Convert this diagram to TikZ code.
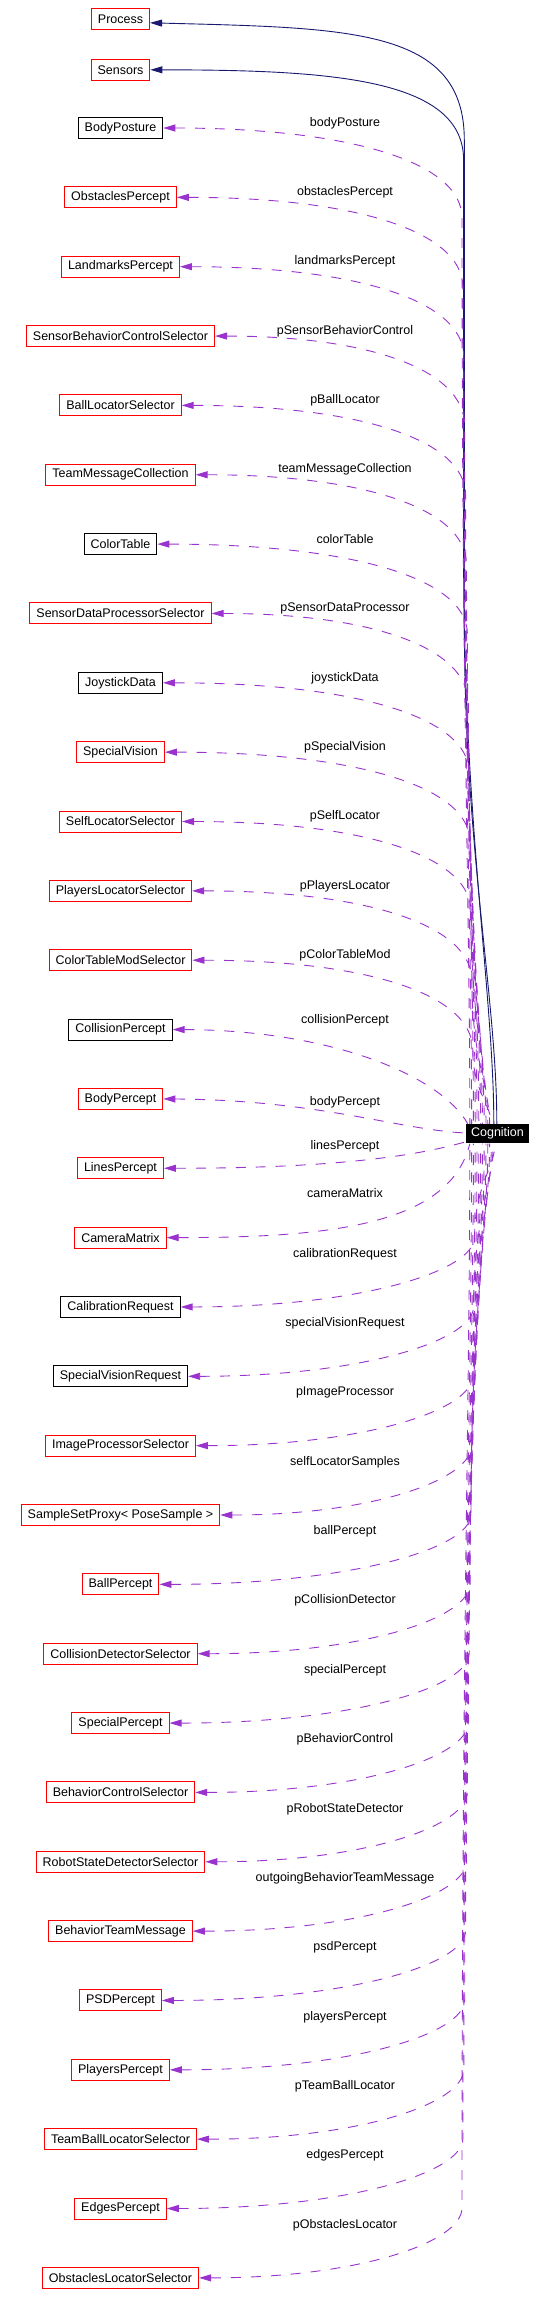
\documentclass[tikz,border=0pt]{standalone}
\usepackage{fontspec}
\setmainfont{Liberation Sans}
\usetikzlibrary{arrows.meta,calc}
\definecolor{dorchid}{HTML}{9A32CD}
\definecolor{mnblue}{HTML}{191970}
\definecolor{boxred}{HTML}{FF0000}
\newcommand\dgfont{\fontsize{12.5pt}{15pt}\selectfont}
\begin{document}
\begin{tikzpicture}[x=1pt,y=1pt,
  cls/.style={draw=boxred, line width=1pt, font=\dgfont, inner xsep=6.5pt, inner ysep=0pt, minimum height=21pt, text=black},
  clsk/.style={cls, draw=black},
  lbl/.style={font=\dgfont, inner sep=0pt, text=black},
  depline/.style={draw=dorchid, line width=0.9pt, dash pattern=on 10pt off 10pt, arrows={Triangle[length=12pt,width=7pt]-}},
  inhline/.style={draw=mnblue, line width=0.9pt, arrows={Triangle[length=12pt,width=7pt]-}}]
\useasboundingbox (0,0) rectangle (545,-2308);
\node[cls] (proc) at (120.5,-18.8) {Process};
\node[cls] (sens) at (120.5,-69.8) {Sensors};
\foreach \i/\t/\s in {0/BodyPosture/clsk,1/ObstaclesPercept/cls,2/LandmarksPercept/cls,3/SensorBehaviorControlSelector/cls,4/BallLocatorSelector/cls,5/TeamMessageCollection/cls,6/ColorTable/clsk,7/SensorDataProcessorSelector/cls,8/JoystickData/clsk,9/SpecialVision/cls,10/SelfLocatorSelector/cls,11/PlayersLocatorSelector/cls,12/ColorTableModSelector/cls,13/CollisionPercept/clsk,14/BodyPercept/cls,15/LinesPercept/cls,16/CameraMatrix/cls,17/CalibrationRequest/clsk,18/SpecialVisionRequest/clsk,19/ImageProcessorSelector/cls,20/SampleSetProxy< PoseSample >/cls,21/BallPercept/cls,22/CollisionDetectorSelector/cls,23/SpecialPercept/cls,24/BehaviorControlSelector/cls,25/RobotStateDetectorSelector/cls,26/BehaviorTeamMessage/cls,27/PSDPercept/cls,28/PlayersPercept/cls,29/TeamBallLocatorSelector/cls,30/EdgesPercept/cls,31/ObstaclesLocatorSelector/cls}
  \node[\s] (n\i) at (120.5,{-(128+69.35*\i)}) {\t};
\node[fill=black, text=white, font=\dgfont, inner sep=0pt, minimum width=63pt, minimum height=19.5pt] (cog) at (497.5,-1133.7) {Cognition};
\foreach \i/\t/\d in {0/bodyPosture/5,1/obstaclesPercept/5,2/landmarksPercept/5,3/pSensorBehaviorControl/5,4/pBallLocator/5,5/teamMessageCollection/5,6/colorTable/5,7/pSensorDataProcessor/5,8/joystickData/5,9/pSpecialVision/5,10/pSelfLocator/5,11/pPlayersLocator/5,12/pColorTableMod/5,13/collisionPercept/9,14/bodyPercept/-3.4,15/linesPercept/21.6,16/cameraMatrix/45,17/calibrationRequest/53,18/specialVisionRequest/53,19/pImageProcessor/53,20/selfLocatorSamples/53,21/ballPercept/53,22/pCollisionDetector/53,23/specialPercept/53,24/pBehaviorControl/53,25/pRobotStateDetector/53,26/outgoingBehaviorTeamMessage/53,27/psdPercept/53,28/playersPercept/53,29/pTeamBallLocator/53,30/edgesPercept/53,31/pObstaclesLocator/53}
  \node[lbl] (l\i) at (345,{-(128+69.35*\i)+\d}) {\t};
% inheritance-like solid edges
\draw[inhline] ([yshift=-4pt]proc.east) .. controls (350,-28) and (464.3,-28) .. (464.3,-140) -- (464.3,-620) .. controls (464.3,-850) and (497,-1000) .. ($(cog.north west)+(31,0)$);
\draw[inhline] (sens.east) .. controls (330,-70) and (463.6,-78) .. (463.6,-160) -- (463.6,-560) .. controls (463.6,-820) and (494,-1000) .. ($(cog.north west)+(28,0)$);
% upper dependency edges
\foreach \i in {0,...,12}{
  \pgfmathsetmacro\ys{128+69.35*\i}
  \pgfmathsetmacro\xv{462+0.9*\i}
  \pgfmathsetmacro\cx{4+1.8*\i}
  \pgfmathsetmacro\D{1034-\ys}
  \draw[depline] (n\i.east) .. controls ($(n\i.east)!0.6!(\xv,-\ys)$) and (\xv,{-\ys-32}) .. (\xv,{-\ys-90}) .. controls (\xv,{-\ys-90-0.55*\D}) and ($(cog.north west)+(\cx,0.25*\D)$) .. ($(cog.north west)+(\cx,0)$);
}
\draw[depline] (n13.east) .. controls (330,-1030) and (440,-1075) .. ($(cog.north west)+(2,0)$);
\draw[depline] (n14.east) .. controls (320,-1100) and (400,-1130) .. ($(cog.west)+(0,0.7)$);
\draw[depline] (n15.east) .. controls (320,-1168.3) and (410,-1158) .. ($(cog.west)+(0,-8)$);
\draw[depline] (n16.east) .. controls (330,-1237.6) and (450,-1225) .. ($(cog.south west)+(4,0)$);
% lower dependency edges
\foreach \i in {17,...,31}{
  \pgfmathsetmacro\ys{128+69.35*\i}
  \pgfmathsetmacro\xv{462+0.9*(31-\i)}
  \pgfmathsetmacro\cx{4+1.8*(31-\i)}
  \pgfmathsetmacro\D{\ys-1213.5}
  \draw[depline] (n\i.east) .. controls ($(n\i.east)!0.6!(\xv,-\ys)$) and (\xv,{-\ys+35}) .. (\xv,{-\ys+70}) .. controls (\xv,{-\ys+70+0.55*\D}) and ($(cog.south west)+(\cx,-0.25*\D)$) .. ($(cog.south west)+(\cx,0)$);
}
\end{tikzpicture}
\end{document}
